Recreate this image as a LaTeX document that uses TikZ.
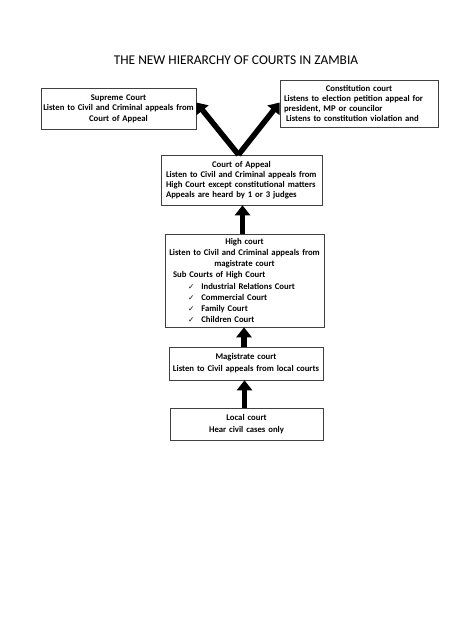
\documentclass[tikz,border=0pt]{standalone}
\usepackage{fontspec}
\setmainfont{Carlito}
\newfontfamily\symfont{DejaVu Sans}
\usetikzlibrary{arrows.meta,shapes}
\tikzstyle{court}=[draw=black!75,line width=0.6pt,rectangle,inner sep=3pt,font=\bfseries\fontsize{8.7}{10.5}\selectfont]
\tikzstyle{uparrow}=[draw,line width=5.5pt,-{Triangle[width=15pt,length=10pt]}]
\tikzstyle{heading}=[font=\fontsize{13.4}{15}\selectfont]
\newcommand{\tick}{{\symfont\mdseries\fontsize{7.5}{7.5}\selectfont ✓}}

\begin{document}
\begin{tikzpicture}[x=1pt,y=-1pt]
    \useasboundingbox (0,0) rectangle (474,632);
    % Title of the page
    \node[heading] (title) at (236,60) {THE NEW HIERARCHY OF COURTS IN ZAMBIA};
    % First we draw the courts
    \node[court,inner xsep=1pt,minimum height=41pt,text width=153pt,align=center] (supreme) at (118.5,108.5)
        {Supreme Court\\Listen to Civil and Criminal appeals from\\Court of Appeal};
    \node[court,minimum height=47pt,text width=152pt,align=left,
          font=\bfseries\fontsize{8.7}{9.8}\selectfont] (constitution) at (359,103.5)
        {\makebox[152pt]{Constitution court}\\
         \hspace*{1pt}Listens to election petition appeal for\\
         \hspace*{1pt}president, MP or councilor\\
         \hspace*{3pt}Listens to constitution violation and};
    \node[court,minimum height=50pt,text width=155pt,align=left,
          font=\bfseries\fontsize{8.7}{9.8}\selectfont] (appeal) at (241.5,180)
        {\makebox[155pt]{Court of Appeal}\\
         \hspace*{2pt}Listen to Civil and Criminal appeals from\\
         \hspace*{2pt}High Court except constitutional matters\\
         \hspace*{2pt}Appeals are heard by 1 or 3 judges\\[1pt]};
    \node[court,minimum height=93pt,text width=153pt,align=left,
          font=\bfseries\fontsize{8.7}{11.2}\selectfont] (highcourt) at (244.5,280.5)
        {\makebox[153pt]{High court}\\
         \makebox[153pt]{Listen to Civil and Criminal appeals from}\\
         \makebox[153pt]{magistrate court}\\
         \hspace*{5pt}Sub Courts of High Court\\
         \hspace*{20pt}\tick\hspace{7pt}Industrial Relations Court\\
         \hspace*{20pt}\tick\hspace{7pt}Commercial Court\\
         \hspace*{20pt}\tick\hspace{7pt}Family Court\\
         \hspace*{20pt}\tick\hspace{7pt}Children Court};
    \node[court,minimum height=33pt,text width=148pt,align=center,
          font=\bfseries\fontsize{8.7}{12}\selectfont] (magistrate) at (246,363.5)
        {Magistrate court\\Listen to Civil appeals from local courts};
    \node[court,minimum height=32pt,text width=147pt,align=center,
          font=\bfseries\fontsize{8.7}{12}\selectfont] (local) at (246.5,424)
        {Local court\\Hear civil cases only};
    % Connect the courts with the appeal arrows
    \foreach \source/\dest in {highcourt/appeal, magistrate/highcourt, local/magistrate}
        \path[uparrow] ([xshift=-2pt]\source.north) -- ([xshift=-2pt]\source.north |- \dest.south);
    \path[uparrow] ([xshift=-3pt]appeal.north) -- ([yshift=6pt]supreme.east);
    \path[uparrow] ([xshift=-3pt]appeal.north) -- ([yshift=1pt]constitution.west);
\end{tikzpicture}
\end{document}
